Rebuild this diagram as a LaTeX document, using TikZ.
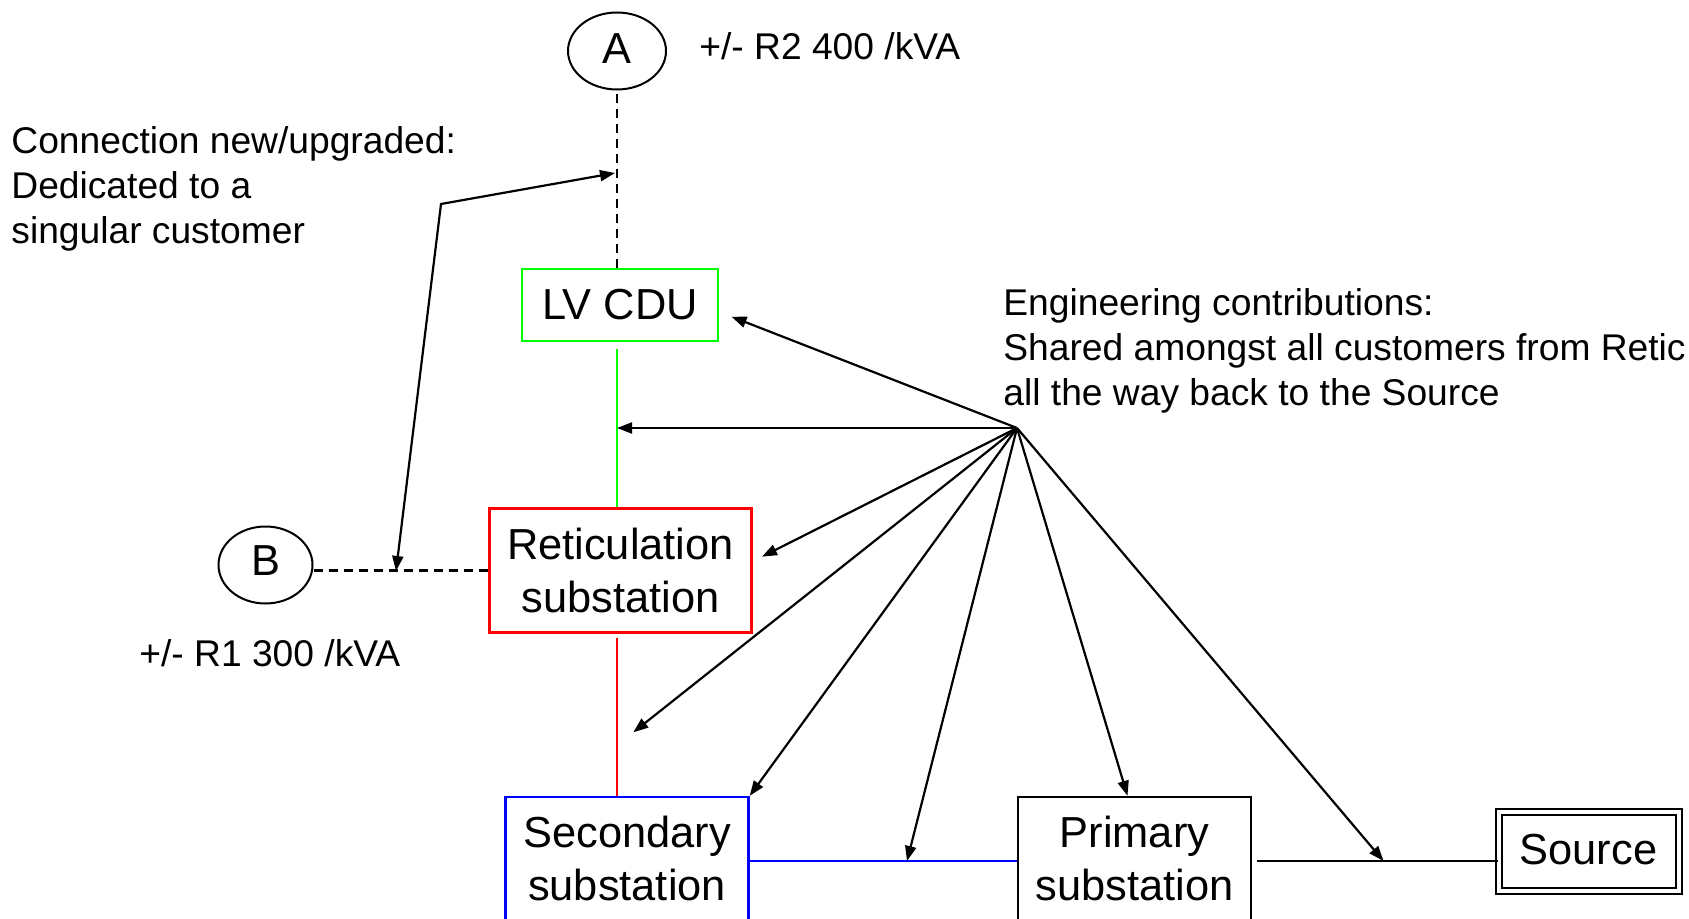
\documentclass[tikz,border=0pt]{standalone}
\usepackage{fontspec}
\setmainfont{Liberation Sans}
\usetikzlibrary{arrows.meta,shapes.geometric}
\definecolor{cdugreen}{RGB}{0,255,0}
\definecolor{reticred}{RGB}{255,0,0}
\definecolor{secblue}{RGB}{0,0,255}
\begin{document}
\begin{tikzpicture}[x=0.5pt,y=-0.5pt,
  box/.style={draw,line width=1.2pt,rectangle,inner sep=0pt,align=center,
    font=\fontsize{21.7pt}{26.5pt}\selectfont},
  bubble/.style={draw,line width=1pt,ellipse,inner sep=0pt,
    font=\fontsize{21.7pt}{26.5pt}\selectfont},
  note/.style={inner sep=0pt,align=left,
    font=\fontsize{18.6pt}{22.5pt}\selectfont},
  link/.style={line width=1.1pt},
  feed/.style={line width=1.1pt,-{Triangle[length=7.5pt,width=5.5pt]}},
  dashlink/.style={line width=1.1pt,dash pattern=on 4.5pt off 3pt},
]
\useasboundingbox (0,0) rectangle (1689,919);
\clip (0,0) rectangle (1689,919);

% customer connection points
\node[bubble,minimum width=49pt,minimum height=38.5pt] (A) at (617,51) {\raisebox{2pt}{A}};
\node[bubble,minimum width=47pt,minimum height=38.5pt] (B) at (265.5,565) {\raisebox{4pt}{B}};

% network equipment
\node[box,draw=cdugreen,minimum width=98pt,minimum height=36pt] (cdu) at (620,305) {LV CDU};
\node[box,draw=reticred,minimum width=131pt,minimum height=62pt] (ret) at (620.5,570.5) {Reticulation\\substation};
\node[box,draw=secblue,minimum width=121.5pt,minimum height=64pt,text depth=3pt] (sec) at (627,861) {Secondary\\substation};
\node[box,minimum width=116.5pt,minimum height=64pt,text depth=3pt] (prim) at (1134.5,861) {Primary\\substation};
\node[box,double,double distance=2pt,line width=1pt,minimum width=90pt,minimum height=39.75pt,text depth=2pt] (src) at (1588.5,851.25) {Source};

% annotations (base anchor sits on the last line)
\node[note,anchor=base west] (rtwo) at (699,60) {+/- R2 400 /kVA};
\node[note,anchor=base west] (rone) at (139,666) {+/- R1 300 /kVA};
\node[note,anchor=base west] (conn) at (11,244) {Connection new/upgraded:\\Dedicated to a\\singular customer};
\node[note,anchor=base west] (eng) at (1003,405) {Engineering contributions:\\Shared amongst all customers from Retic\\all the way back to the Source};

% supply chain
\draw[dashlink,shorten <=2pt] (A.south) -- (A.south |- cdu.north);
\draw[link,cdugreen,shorten <=3.5pt] (cdu.south -| A) -- (ret.north -| A);
\draw[link,reticred,shorten <=2pt] (ret.south -| A) -- (sec.north -| A);
\draw[dashlink] (B.east |- ret.west) -- (ret.west);
\draw[link,secblue] (sec.east) -- (prim.west);
\draw[link,shorten <=2.5pt] (prim.east) -- (prim.east -| src.west);

% dedicated connection pointer
\coordinate (ctop) at (615,173);
\coordinate (cbend) at (441,204);
\coordinate (cbot) at (396,571);
\draw[link,{Triangle[length=7.5pt,width=5.5pt]}-{Triangle[length=7.5pt,width=5.5pt]}] (cbot) -- (cbend) -- (ctop);

% shared engineering contributions
\coordinate (hub) at (1017,428);
\coordinate (tcdu) at (731.5,316.7);
\coordinate (tret) at (762,556.7);
\coordinate (tfree) at (633.3,732.3);
\coordinate (tbus) at (907,861);
\coordinate (tfeed) at (1383.5,861);
\draw[feed] (hub) -- (tcdu);
\draw[feed] (hub) -- (hub -| A);
\draw[feed] (hub) -- (tret);
\draw[feed] (hub) -- (tfree);
\draw[feed] (hub) -- (sec.north east);
\draw[feed] (hub) -- (tbus);
\draw[feed] (hub) -- ([xshift=-3.5pt]prim.north);
\draw[feed] (hub) -- (tfeed);
\end{tikzpicture}
\end{document}
